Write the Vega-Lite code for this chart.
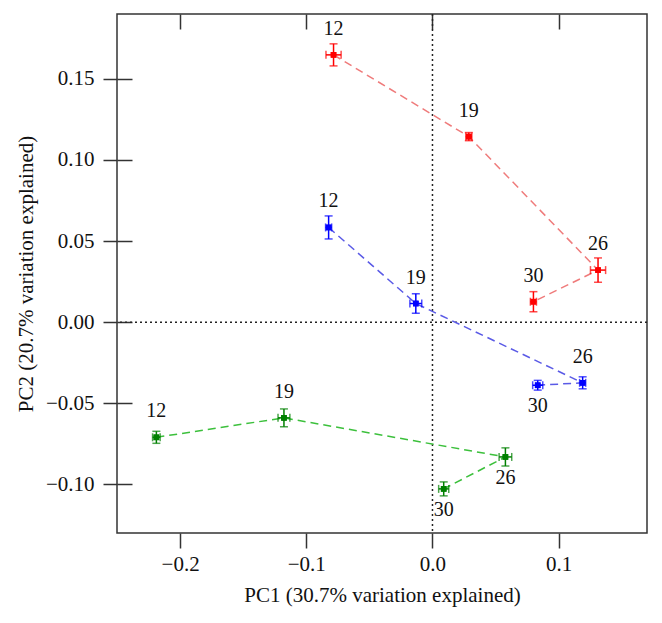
{
  "$schema": "https://vega.github.io/schema/vega-lite/v6.json",
  "width": 530,
  "height": 519,
  "autosize": {"type": "none"},
  "padding": {"left": 117, "top": 14, "right": 15, "bottom": 90},
  "background": "white",
  "config": {
    "view": {"stroke": "#333333", "strokeWidth": 1.5},
    "font": "Liberation Serif, serif",
    "text": {"font": "Liberation Serif, serif"},
    "axis": {"grid": false, "domain": false, "tickColor": "#333333", "tickWidth": 1.5, "labelFont": "Liberation Serif, serif", "titleFont": "Liberation Serif, serif", "labelFontSize": 21, "titleFontSize": 21, "labelColor": "#111111", "titleColor": "#111111", "titleFontWeight": "normal"}
  },
  "datasets": {
    "pts": [
      {"grp": "A", "t": 12, "x": -0.0784, "y": 0.1648, "xe": 0.006, "ye": 0.0068, "side": "above"},
      {"grp": "A", "t": 19, "x": 0.0288, "y": 0.1144, "xe": 0.0024, "ye": 0.0025, "side": "above"},
      {"grp": "A", "t": 26, "x": 0.1312, "y": 0.0321, "xe": 0.006, "ye": 0.0075, "side": "above"},
      {"grp": "A", "t": 30, "x": 0.080, "y": 0.0126, "xe": 0.0024, "ye": 0.0062, "side": "above"},
      {"grp": "B", "t": 12, "x": -0.0823, "y": 0.0584, "xe": 0.0024, "ye": 0.0071, "side": "above"},
      {"grp": "B", "t": 19, "x": -0.0132, "y": 0.0115, "xe": 0.0047, "ye": 0.006, "side": "above"},
      {"grp": "B", "t": 26, "x": 0.119, "y": -0.0374, "xe": 0.0024, "ye": 0.0037, "side": "above"},
      {"grp": "B", "t": 30, "x": 0.0834, "y": -0.0389, "xe": 0.004, "ye": 0.003, "side": "below"},
      {"grp": "C", "t": 12, "x": -0.2188, "y": -0.071, "xe": 0.003, "ye": 0.0037, "side": "above"},
      {"grp": "C", "t": 19, "x": -0.1177, "y": -0.059, "xe": 0.0047, "ye": 0.0055, "side": "above"},
      {"grp": "C", "t": 26, "x": 0.0578, "y": -0.0831, "xe": 0.005, "ye": 0.0056, "side": "below"},
      {"grp": "C", "t": 30, "x": 0.0089, "y": -0.1028, "xe": 0.004, "ye": 0.0043, "side": "below"}
    ],
    "zero": [{"v": 0}]
  },
  "resolve": {"axis": {"x": "independent", "y": "independent"}},
  "layer": [
    {
      "data": {"name": "pts"},
      "mark": {"type": "point", "shape": "square", "filled": true, "size": 32, "opacity": 1},
      "encoding": {
        "x": {"field": "x", "type": "quantitative", "scale": {"domain": [-0.25, 0.17], "nice": false, "zero": false}, "axis": {"orient": "bottom", "title": "PC1 (30.7% variation explained)", "values": [-0.2, -0.1, 0, 0.1], "format": ".1f", "tickSize": 15, "labelPadding": 5, "titlePadding": 10, "grid": true, "gridColor": "#333333", "gridOpacity": 1, "gridWidth": 1.5, "gridDash": [15, 1000]}},
        "y": {"field": "y", "type": "quantitative", "scale": {"domain": [-0.13, 0.19], "nice": false, "zero": false}, "axis": {"orient": "left", "title": "PC2 (20.7% variation explained)", "values": [-0.1, -0.05, 0, 0.05, 0.1, 0.15], "format": ".2f", "tickSize": 14, "labelPadding": 9, "titlePadding": 9, "grid": true, "gridColor": "#333333", "gridOpacity": 1, "gridWidth": 1.5, "gridDash": [15, 1000]}},
        "color": {"field": "grp", "type": "nominal", "legend": null, "scale": {"domain": ["A", "B", "C"], "range": ["#ff0000", "#0000ff", "#008000"]}}
      }
    },
    {
      "data": {"name": "zero"},
      "mark": {"type": "rule", "color": "#222222", "strokeWidth": 1.5, "strokeDash": [2, 3]},
      "encoding": {"x": {"field": "v", "type": "quantitative", "axis": null}}
    },
    {
      "data": {"name": "zero"},
      "mark": {"type": "rule", "color": "#222222", "strokeWidth": 1.5, "strokeDash": [2, 3]},
      "encoding": {"y": {"field": "v", "type": "quantitative", "axis": null}}
    },
    {
      "data": {"name": "pts"},
      "mark": {"type": "line", "strokeWidth": 1.5, "strokeDash": [8, 5]},
      "encoding": {
        "x": {"field": "x", "type": "quantitative", "axis": null},
        "y": {"field": "y", "type": "quantitative", "axis": null},
        "stroke": {"field": "grp", "type": "nominal", "legend": null, "scale": {"domain": ["A", "B", "C"], "range": ["#ef7b7b", "#5a5ae6", "#3cc03c"]}},
        "order": {"field": "t", "type": "quantitative"}
      }
    },
    {
      "data": {"name": "pts"},
      "mark": {"type": "errorbar", "ticks": {"size": 8}, "thickness": 1.5},
      "encoding": {
        "x": {"field": "x", "type": "quantitative", "axis": null},
        "y": {"field": "y", "type": "quantitative", "axis": null},
        "yError": {"field": "ye"},
        "color": {"field": "grp", "type": "nominal", "legend": null}
      }
    },
    {
      "data": {"name": "pts"},
      "mark": {"type": "errorbar", "ticks": {"size": 8}, "thickness": 1.5},
      "encoding": {
        "y": {"field": "y", "type": "quantitative", "axis": null},
        "x": {"field": "x", "type": "quantitative", "axis": null},
        "xError": {"field": "xe"},
        "color": {"field": "grp", "type": "nominal", "legend": null}
      }
    },
    {
      "data": {"name": "pts"},
      "mark": {"type": "point", "shape": "square", "filled": true, "size": 32, "opacity": 1},
      "encoding": {
        "x": {"field": "x", "type": "quantitative", "axis": null},
        "y": {"field": "y", "type": "quantitative", "axis": null},
        "color": {"field": "grp", "type": "nominal", "legend": null}
      }
    },
    {
      "data": {"name": "pts"},
      "transform": [{"filter": "datum.side === 'above'"}],
      "mark": {"type": "text", "fontSize": 20, "font": "Liberation Serif, serif", "color": "#111111", "baseline": "middle", "dy": -26},
      "encoding": {
        "x": {"field": "x", "type": "quantitative", "axis": null},
        "y": {"field": "y", "type": "quantitative", "axis": null},
        "text": {"field": "t", "type": "nominal"}
      }
    },
    {
      "data": {"name": "pts"},
      "transform": [{"filter": "datum.side === 'below'"}],
      "mark": {"type": "text", "fontSize": 20, "font": "Liberation Serif, serif", "color": "#111111", "baseline": "middle", "dy": 21},
      "encoding": {
        "x": {"field": "x", "type": "quantitative", "axis": null},
        "y": {"field": "y", "type": "quantitative", "axis": null},
        "text": {"field": "t", "type": "nominal"}
      }
    }
  ]
}
